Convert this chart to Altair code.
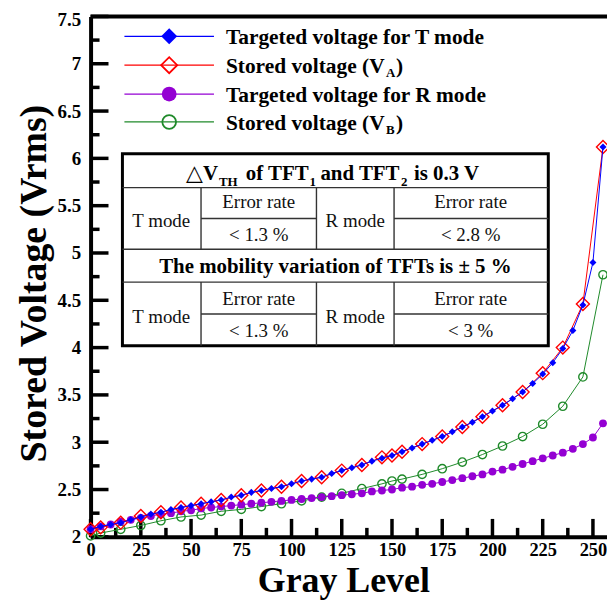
import altair as alt
import pandas as pd

# ---------------- data ----------------
gray_T = [0, 5, 10, 15, 20, 25, 30, 35, 40, 45, 50, 55, 60, 65, 70, 75, 80, 85, 90, 95,
          100, 105, 110, 115, 120, 125, 130, 135, 140, 145, 150, 155, 160, 165, 170, 175,
          180, 185, 190, 195, 200, 205, 210, 215, 220, 225, 230, 235, 240, 245, 250, 255]
volt_T = [2.08, 2.11, 2.13, 2.15, 2.18, 2.21, 2.24, 2.26, 2.29, 2.31,
          2.33, 2.35, 2.37, 2.39, 2.42, 2.44, 2.47, 2.49, 2.51, 2.53,
          2.56, 2.59, 2.61, 2.63, 2.67, 2.70, 2.73, 2.76, 2.80, 2.83,
          2.86, 2.90, 2.94, 2.98, 3.02, 3.06, 3.11, 3.16, 3.21, 3.27,
          3.33, 3.39, 3.46, 3.53, 3.62, 3.72, 3.84, 3.99, 4.18, 4.45,
          4.90, 6.12]

gray_A = [0, 5, 15, 25, 35, 45, 55, 65, 75, 85, 95, 105, 115, 125, 135, 145, 150, 155,
          165, 175, 185, 195, 205, 215, 225, 235, 245, 255]
volt_A = [2.08, 2.10, 2.15, 2.22, 2.26, 2.31, 2.35, 2.39, 2.44, 2.49, 2.53, 2.59, 2.63,
          2.70, 2.76, 2.84, 2.86, 2.90, 2.98, 3.06, 3.16, 3.27, 3.39, 3.53, 3.73, 4.00,
          4.46, 6.12]

gray_R = [0, 5, 10, 15, 20, 25, 30, 35, 40, 45, 50, 55, 60, 65, 70, 75, 80, 85, 90, 95,
          100, 105, 110, 115, 120, 125, 130, 135, 140, 145, 150, 155, 160, 165, 170, 175,
          180, 185, 190, 195, 200, 205, 210, 215, 220, 225, 230, 235, 240, 245, 250, 255]
volt_R = [2.08, 2.11, 2.13, 2.16, 2.18, 2.20, 2.22, 2.24, 2.25, 2.27,
          2.28, 2.30, 2.31, 2.32, 2.33, 2.34, 2.35, 2.36, 2.37, 2.38,
          2.39, 2.40, 2.41, 2.42, 2.43, 2.44, 2.45, 2.46, 2.48, 2.49,
          2.50, 2.52, 2.53, 2.55, 2.56, 2.58, 2.60, 2.62, 2.64, 2.66,
          2.69, 2.71, 2.74, 2.77, 2.80, 2.83, 2.86, 2.89, 2.93, 2.98,
          3.05, 3.20]

gray_B = [0, 5, 15, 25, 35, 45, 55, 65, 75, 85, 95, 105, 115, 125, 135, 145, 150, 155,
          165, 175, 185, 195, 205, 215, 225, 235, 245, 255]
volt_B = [2.01, 2.04, 2.08, 2.12, 2.17, 2.21, 2.23, 2.27, 2.29, 2.32, 2.35, 2.38, 2.42,
          2.46, 2.51, 2.56, 2.59, 2.61, 2.66, 2.72, 2.79, 2.87, 2.96, 3.06, 3.19, 3.38,
          3.69, 4.77]

x_major = [0, 25, 50, 75, 100, 125, 150, 175, 200, 225, 250]
x_minor = [12.5, 37.5, 62.5, 87.5, 112.5, 137.5, 162.5, 187.5, 212.5, 237.5]
y_major = [2, 2.5, 3, 3.5, 4, 4.5, 5, 5.5, 6, 6.5, 7, 7.5]
y_minor = [2.25, 2.75, 3.25, 3.75, 4.25, 4.75, 5.25, 5.75, 6.25, 6.75, 7.25]

legend_labels = ["Targeted voltage for T mode", "Stored voltage (V", "Targeted voltage for R mode", "Stored voltage (V"]
legend_subs = ["", "A", "", "B"]

# ---------------- styling ----------------
W, H = 519, 523
PX, PY = 91, 15          # page position of plot origin
FONT = "Liberation Serif, Times New Roman, serif"
BLUE, RED, PURPLE, GREEN = "#0000ff", "#ff0000", "#9400d3", "#1f8a2a"

xs = alt.Scale(domain=[0, 257], nice=False, zero=False)
ys = alt.Scale(domain=[2, 7.5], nice=False, zero=False)

x_axis = alt.Axis(values=x_major, ticks=False, grid=False, domainWidth=4, domainColor="black",
                  labelFont=FONT, labelFontWeight="bold", labelFontSize=18.5, labelColor="black",
                  labelPadding=4, labelFlush=False, labelOverlap=False,
                  title="Gray Level", titleFont=FONT, titleFontSize=36, titleFontWeight="bold",
                  titleColor="black", titleX=254, titleY=55, titleAlign="center",
                  titleBaseline="alphabetic")
y_axis = alt.Axis(values=y_major, format="~g", ticks=False, grid=False, domainWidth=4,
                  domainColor="black", labelFont=FONT, labelFontWeight="bold", labelFontSize=19,
                  labelColor="black", labelPadding=10, labelOverlap=False,
                  labelOffset={"condition": {"test": "datum.value == 7.5", "value": 3}, "value": 0},
                  title="Stored Voltage (Vrms)", titleFont=FONT, titleFontSize=38,
                  titleFontWeight="bold", titleColor="black", titleX=-45, titleY=268,
                  titleAlign="center", titleBaseline="alphabetic", titleAngle=270)


def X():
    return alt.X("gray:Q", scale=xs, axis=x_axis)


def Y():
    return alt.Y("volt:Q", scale=ys, axis=y_axis)


def df(g, v):
    return pd.DataFrame({"gray": g, "volt": v})


one = pd.DataFrame({"k": [0]})


def series(g, v, color, shape, size, filled, sw):
    d = df(g, v)
    line = alt.Chart(d).mark_line(color=color, strokeWidth=1).encode(x=X(), y=Y())
    pts = alt.Chart(d).mark_point(color=color, shape=shape, size=size, filled=filled,
                                  strokeWidth=sw, opacity=1).encode(x=X(), y=Y())
    return [line, pts]


layers = []


# inward tick marks
def ticks_x(vals, length):
    return alt.Chart(df(vals, [2] * len(vals))).mark_rule(color="black", strokeWidth=3.5).encode(
        x=X(), y=alt.value(H), y2=alt.value(H - length))


def ticks_y(vals, length):
    return alt.Chart(df([0] * len(vals), vals)).mark_rule(color="black", strokeWidth=3.5).encode(
        y=Y(), x=alt.value(0), x2=alt.value(length))


layers += [ticks_x(x_major, 18), ticks_x(x_minor, 9), ticks_y(y_major, 18), ticks_y(y_minor, 9)]

# top frame line
layers.append(alt.Chart(one).mark_rule(color="black", strokeWidth=4).encode(
    x=alt.value(0), x2=alt.value(W + 20), y=alt.value(0)))

# data series
layers += series(gray_B, volt_B, GREEN, "circle", 70, False, 1.4)
layers += series(gray_R, volt_R, PURPLE, "circle", 62, True, 1)
layers += series(gray_A, volt_A, RED, "diamond", 170, False, 1.4)
layers += series(gray_T, volt_T, BLUE, "diamond", 50, True, 1)


def val(v):
    return alt.value(v)


def text(s, x, y, size, weight="bold", align="left", color="black", font=FONT):
    return alt.Chart(one).mark_text(font=font, fontSize=size, fontWeight=weight, align=align,
                                    baseline="alphabetic", color=color).encode(
        x=val(x - PX), y=val(y - PY), text=val(s))


def hrule(x1, x2, y, w=1.4, color="#333333"):
    return alt.Chart(one).mark_rule(color=color, strokeWidth=w).encode(
        x=val(x1 - PX), x2=val(x2 - PX), y=val(y - PY))


def vrule(x, y1, y2, w=1.4, color="#333333"):
    return alt.Chart(one).mark_rule(color=color, strokeWidth=w).encode(
        x=val(x - PX), y=val(y1 - PY), y2=val(y2 - PY))


# legend
leg_colors = [BLUE, RED, PURPLE, GREEN]
leg_shapes = ["diamond", "diamond", "circle", "circle"]
leg_filled = [True, False, True, False]
leg_sizes = [260, 260, 220, 190]
leg_rows = [35, 64, 93, 121]
for i in range(4):
    yy = leg_rows[i]
    layers.append(alt.Chart(one).mark_rule(color=leg_colors[i], strokeWidth=1.2).encode(
        x=val(125 - PX), x2=val(215 - PX), y=val(yy - PY)))
    layers.append(alt.Chart(one).mark_point(color=leg_colors[i], shape=leg_shapes[i],
                                            size=leg_sizes[i], filled=leg_filled[i],
                                            strokeWidth=1.8, opacity=1).encode(
        x=val(170 - PX), y=val(yy - PY)))
    layers.append(text(legend_labels[i], 227, yy + 8, 21.5))
    if legend_subs[i]:
        layers.append(text(legend_subs[i], 388, yy + 12, 13))
        layers.append(text(")", 398, yy + 8, 21.5))

# table
layers.append(alt.Chart(one).mark_rect(fill="white", stroke="black", strokeWidth=3).encode(
    x=val(123 - PX), x2=val(551 - PX), y=val(153 - PY), y2=val(346 - PY)))
for yy in [187, 249, 282]:
    layers.append(hrule(123, 551, yy))
for (a, b) in [(202, 318), (396, 551)]:
    layers.append(hrule(a, b, 218))
    layers.append(hrule(a, b, 314))
for xx in [202, 318, 396]:
    layers.append(vrule(xx, 187, 249))
    layers.append(vrule(xx, 282, 346))

# header row with subscripts
layers += [
    text("\u25b3", 187, 179, 22, weight="normal", font="DejaVu Sans"),
    text("V", 204, 179, 21),
    text("TH", 220, 185, 13),
    text("of TFT", 247, 179, 21),
    text("1", 311, 185, 13),
    text("and TFT", 322, 179, 21),
    text("2", 403, 185, 13),
    text("is 0.3 V", 416, 179, 21),
]
layers.append(text("The mobility variation of TFTs is \u00b1 5 %", 337, 273, 21, align="center"))

cells = [
    ("T mode", 162, 227), ("Error rate", 260, 208), ("< 1.3 %", 260, 241),
    ("R mode", 357, 227), ("Error rate", 473, 208), ("< 2.8 %", 473, 241),
    ("T mode", 162, 323), ("Error rate", 260, 305), ("< 1.3 %", 260, 337),
    ("R mode", 357, 323), ("Error rate", 473, 305), ("< 3 %", 473, 337),
]
for s, x, y in cells:
    layers.append(text(s, x, y, 19, weight="normal", align="center", color="#111111"))

chart = alt.layer(*layers).properties(
    width=W, height=H,
    autosize=alt.AutoSizeParams(type="none"),
    padding={"left": PX - 8, "top": PY - 8, "right": 0, "bottom": 63},
).configure_view(stroke=None).configure(background="white")

chart.save("out.html", embed_options={"renderer": "svg", "actions": False})
